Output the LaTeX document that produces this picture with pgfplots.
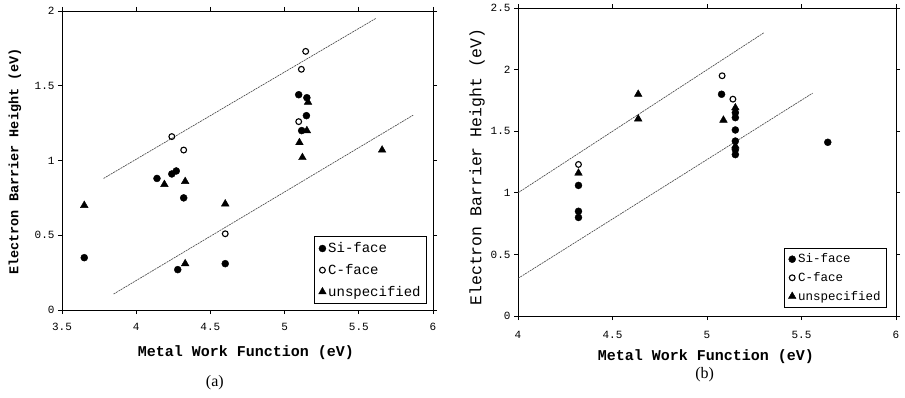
\documentclass[border=0pt]{standalone}
\usepackage{pgfplots}
\pgfplotsset{compat=1.18}
\usepackage{fontspec}
\setmainfont{Liberation Serif}
\newfontfamily\monofont{Liberation Mono}
\begin{document}
\begin{tikzpicture}
\useasboundingbox (0,0) rectangle (905pt,397pt);
\pgfplotsset{
  common/.style={
    scale only axis, anchor=south west, clip=false,
    axis line style={line width=0.9pt},
    tick align=outside, major tick length=4pt,
    tick style={line width=0.8pt, black},
    /pgf/number format/assume math mode=true,
    ticklabel style={font=\monofont\fontsize{11}{12}\selectfont},
    label style={font=\monofont\bfseries\fontsize{15}{16}\selectfont},
    legend cell align=left,
    legend style={draw=black, line width=0.8pt, font=\monofont\fontsize{14}{17}\selectfont, row sep=6pt, inner sep=4pt},
    legend image post style={line width=0.4pt},
  },
  si/.style={only marks, mark=*, mark size=3.5pt, mark options={fill=black, draw=black}},
  cf/.style={only marks, mark=o, mark size=2.9pt, mark options={draw=black, line width=1.1pt}},
  un/.style={only marks, mark=triangle*, mark size=4.4pt, mark options={fill=black, draw=black}},
  fit/.style={forget plot, black!70, line width=0.65pt, dash pattern=on 2pt off 0.8pt},
}
% ---------------- panel (a)
\begin{axis}[common,
  at={(62pt,87pt)}, width=371pt, height=299pt,
  xmin=3.5, xmax=6, ymin=0, ymax=2,
  xtick={3.5,4,4.5,5,5.5,6}, ytick={0,0.5,1,1.5,2},
  xticklabel style={yshift=-6pt},
  xlabel={Metal Work Function (eV)},
  ylabel={Electron Barrier Height (eV)},
  xlabel style={at={(axis description cs:0.496,-0.144)}, anchor=center},
  ylabel style={at={(axis description cs:-0.127,0.497)}, anchor=center, font=\monofont\bfseries\fontsize{13.5}{15}\selectfont},
  legend style={at={(0.984,0.02)}, anchor=south east},
]
\addplot[si] coordinates {(3.65,0.35) (4.14,0.88) (4.24,0.91) (4.27,0.93) (4.32,0.75) (4.28,0.27) (4.60,0.31) (5.095,1.44) (5.15,1.42) (5.147,1.30) (5.115,1.20)};
\addlegendentry{Si-face}
\addplot[cf] coordinates {(4.24,1.16) (4.32,1.07) (4.60,0.51) (5.095,1.26) (5.113,1.61) (5.142,1.73)};
\addlegendentry{C-face}
\addplot[un] coordinates {(3.65,0.70) (4.19,0.84) (4.33,0.86) (4.33,0.31) (4.60,0.71) (5.10,1.12) (5.12,1.02) (5.158,1.39) (5.15,1.20) (5.657,1.07)};
\addlegendentry{unspecified}
\addplot[fit] coordinates {(3.78,0.88) (5.614,1.95)};
\addplot[fit] coordinates {(3.848,0.107) (5.866,1.303)};
\node[font=\fontsize{16}{17}\selectfont] at (rel axis cs:0.412,-0.244) {(a)};
\end{axis}
% ---------------- panel (b)
\begin{axis}[common,
  at={(518pt,81pt)}, width=378pt, height=308pt,
  xmin=4, xmax=6, ymin=0, ymax=2.5,
  xtick={4,4.5,5,5.5,6}, ytick={0,0.5,1,1.5,2,2.5},
  xticklabel style={yshift=-8pt},
  xlabel={Metal Work Function (eV)},
  ylabel={Electron Barrier Height (eV)},
  xlabel style={at={(axis description cs:0.497,-0.133)}, anchor=center},
  ylabel style={at={(axis description cs:-0.108,0.484)}, anchor=center, font=\monofont\fontsize{16.5}{18}\selectfont},
  legend style={at={(0.976,0.026)}, anchor=south east, font=\monofont\fontsize{12.5}{14}\selectfont, row sep=4pt},
]
\addplot[si] coordinates {(4.32,1.06) (4.32,0.85) (4.32,0.80) (5.077,1.80) (5.15,1.65) (5.15,1.61) (5.15,1.51) (5.15,1.42) (5.15,1.35) (5.15,1.31) (5.639,1.41)};
\addlegendentry{Si-face}
\addplot[cf] coordinates {(4.32,1.23) (5.08,1.95) (5.137,1.76)};
\addlegendentry{C-face}
\addplot[un] coordinates {(4.32,1.16) (4.636,1.80) (4.636,1.60) (5.087,1.59) (5.15,1.69) (5.15,1.38)};
\addlegendentry{unspecified}
\addplot[fit] coordinates {(4,1.0) (5.302,2.30)};
\addplot[fit] coordinates {(4.0,0.305) (5.559,1.809)};
\node[font=\fontsize{16}{17}\selectfont] at (rel axis cs:0.494,-0.19) {(b)};
\end{axis}
\end{tikzpicture}
\end{document}
